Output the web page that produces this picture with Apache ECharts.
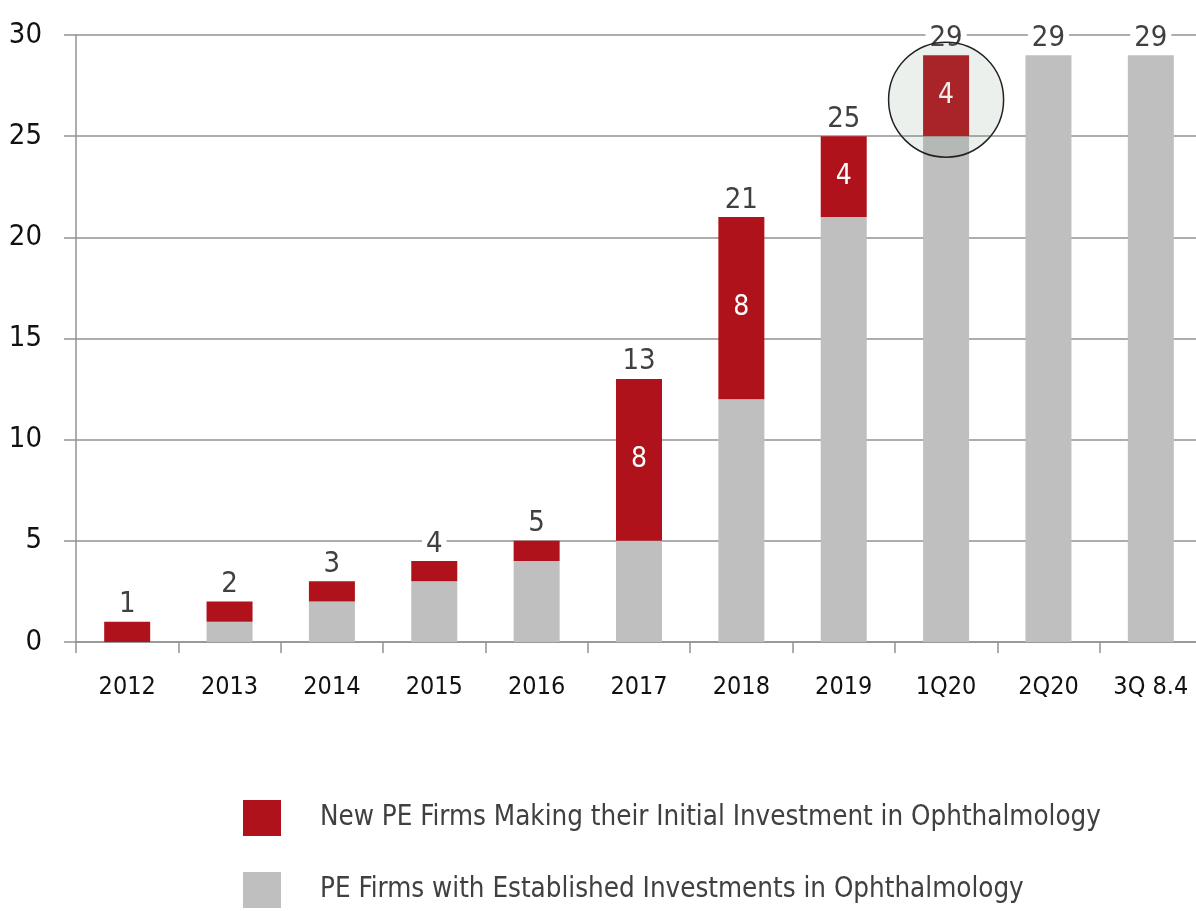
<!DOCTYPE html>
<html>
<head>
<meta charset="utf-8">
<script src="https://cdn.jsdelivr.net/npm/echarts@6/dist/echarts.min.js"></script>
<style>
html, body { margin: 0; padding: 0; background: #fff; }
#chart { width: 1196px; height: 911px; }
</style>
</head>
<body>
<div id="chart"></div>
<script>
// categories and values
var categories = ['2012', '2013', '2014', '2015', '2016', '2017', '2018', '2019', '1Q20', '2Q20', '3Q 8.4'];
var established = [0, 1, 2, 3, 4, 5, 12, 21, 25, 29, 29];
var newFirms = [1, 1, 1, 1, 1, 8, 9, 4, 4, 0, 0];
var newLabels = ['', '', '', '', '', '8', '8', '4', '4', '', ''];
var totals = [1, 2, 3, 4, 5, 13, 21, 25, 29, 29, 29];
var yTicks = [0, 5, 10, 15, 20, 25, 30];
var highlight = { category: '1Q20', value: 26.8 };

var NEW_NAME = 'New PE Firms Making their Initial Investment in Ophthalmology';
var EST_NAME = 'PE Firms with Established Investments in Ophthalmology';

var FONT = '"Liberation Sans Narrow", "DejaVu Sans Condensed", sans-serif';
var RED = '#b0121b';
var GREY = '#bfbfbf';
var LINE = '#929292';

var chart = echarts.init(document.getElementById('chart'), null, { renderer: 'canvas' });

function legendAt(name, top) {
	return {
		left: 238,
		top: top,
		itemWidth: 38,
		itemHeight: 36,
		icon: 'rect',
		data: [name],
		textStyle: { fontFamily: FONT, fontSize: 27.5, color: '#404040', padding: [0, 0, 0, 34] }
	};
}

var option = {
	animation: false,
	textStyle: { fontFamily: FONT },
	// plot runs a little past the right edge of the picture
	grid: { left: 76, right: -6, top: 35, bottom: 269, containLabel: false, outerBoundsMode: 'none' },
	legend: [legendAt(NEW_NAME, 795), legendAt(EST_NAME, 867)],
	xAxis: {
		type: 'category',
		data: categories,
		axisLine: { lineStyle: { color: LINE, width: 1.5 } },
		axisTick: { show: true, alignWithLabel: false, length: 11, lineStyle: { color: LINE, width: 1.5 } },
		axisLabel: { interval: 0, fontFamily: FONT, fontSize: 25, color: '#111', margin: 33 }
	},
	yAxis: {
		type: 'value',
		min: yTicks[0],
		max: yTicks[yTicks.length - 1],
		interval: 5,
		axisLine: { show: true, lineStyle: { color: LINE, width: 1.5 } },
		axisTick: { show: true, length: 12, lineStyle: { color: LINE, width: 1.5 } },
		axisLabel: { fontFamily: FONT, fontSize: 29, color: '#111', margin: 34 },
		splitLine: { lineStyle: { color: LINE, width: 1.5 } }
	},
	series: [
		{
			name: EST_NAME,
			type: 'bar',
			stack: 'pe',
			barWidth: 46,
			itemStyle: { color: GREY },
			data: established
		},
		{
			name: NEW_NAME,
			type: 'bar',
			stack: 'pe',
			barWidth: 46,
			itemStyle: { color: RED },
			label: {
				show: true,
				position: 'inside',
				color: '#fff',
				fontFamily: FONT,
				fontSize: 28,
				formatter: function (p) { return newLabels[p.dataIndex]; }
			},
			data: newFirms,
			markPoint: {
				symbol: 'circle',
				symbolSize: 115,
				silent: true,
				label: { show: false },
				itemStyle: { color: 'rgba(120,150,125,0.14)', borderColor: '#222', borderWidth: 1.5 },
				data: [{ coord: [highlight.category, highlight.value] }]
			}
		},
		{
			// invisible cap that carries the total labels
			name: 'total',
			type: 'bar',
			stack: 'pe',
			barWidth: 46,
			itemStyle: { color: 'transparent' },
			label: {
				show: true,
				position: 'top',
				distance: 4,
				color: '#404040',
				fontFamily: FONT,
				fontSize: 29,
				backgroundColor: '#fff',
				padding: [0, 4, 0, 4],
				lineHeight: 26,
				formatter: function (p) { return totals[p.dataIndex]; }
			},
			data: totals.map(function () { return 0; })
		}
	]
};

chart.setOption(option);
</script>
</body>
</html>
